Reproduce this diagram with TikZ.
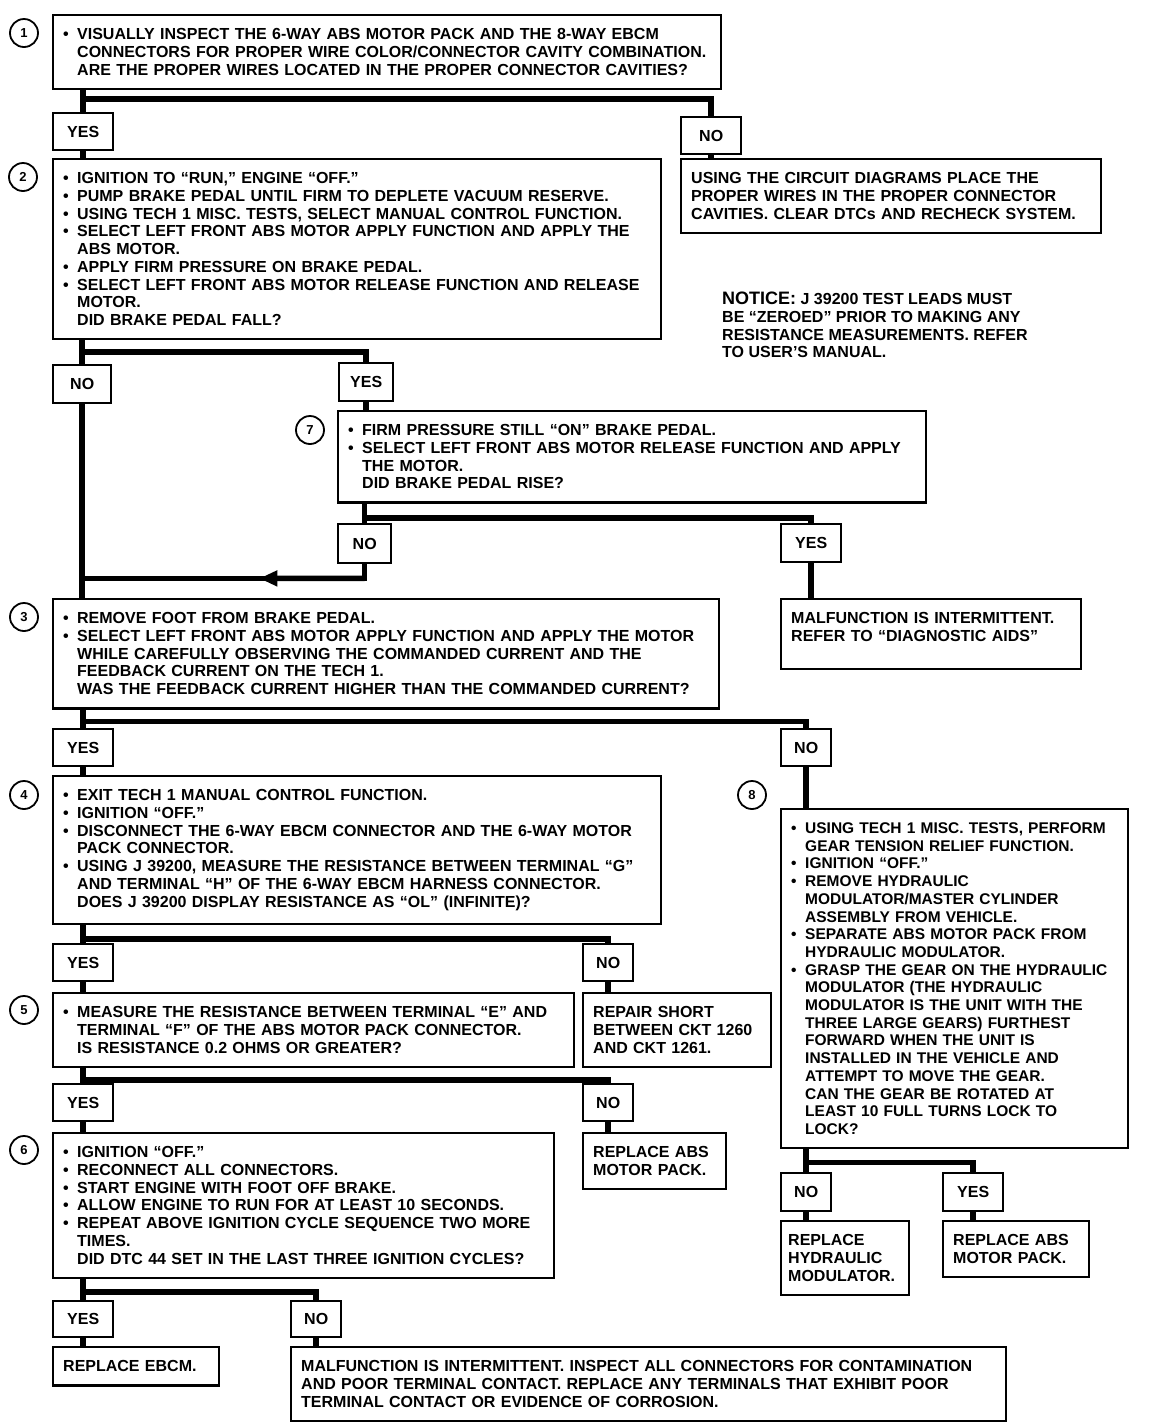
\documentclass[tikz,border=0pt]{standalone}
\usepackage{fontspec}
\setmainfont{Liberation Sans}
\usetikzlibrary{arrows.meta, positioning, calc}

\newcommand{\itm}{\makebox[14pt][l]{•}}
\newcommand{\ind}{\hspace*{14pt}}

\begin{document}
\begin{tikzpicture}[
    x=1pt, y=-1pt,
    every node/.style={font=\bfseries\fontsize{16}{17.7}\selectfont},
    stepbox/.style={draw, line width=2.4pt, anchor=north west, align=left,
                    inner xsep=10pt, inner ysep=13.5pt},
    answer/.style={draw, line width=2.4pt, anchor=north west,
                   minimum height=37pt, inner sep=2pt},
    num/.style={draw, circle, line width=1.8pt, minimum size=28pt, inner sep=0pt,
                font=\bfseries\fontsize{13}{13}\selectfont},
    conn/.style={line width=5.5pt},
  ]
    \useasboundingbox (0,0) rectangle (1152,1428);

    % step 1
    \node[num] (c1) at (24,33) {1};
    \node[stepbox, text width=648pt] (b1) at (52,14)
      {\itm VISUALLY INSPECT THE 6-WAY ABS MOTOR PACK AND THE 8-WAY EBCM\\
       \ind CONNECTORS FOR PROPER WIRE COLOR/CONNECTOR CAVITY COMBINATION.\\
       \ind ARE THE PROPER WIRES LOCATED IN THE PROPER CONNECTOR CAVITIES?};
    \node[answer, minimum width=60pt] (y1) at (52,112) {YES};
    \node[answer, minimum width=60pt] (n1) at (680,116) {NO};
    \node[stepbox, text width=400pt] (r1) at (680,158)
      {USING THE CIRCUIT DIAGRAMS PLACE THE\\
       PROPER WIRES IN THE PROPER CONNECTOR\\
       CAVITIES. CLEAR DTCs AND RECHECK SYSTEM.};

    % step 2
    \node[num] (c2) at (23,177) {2};
    \node[stepbox, text width=588pt] (b2) at (52,158)
      {\itm IGNITION TO “RUN,” ENGINE “OFF.”\\
       \itm PUMP BRAKE PEDAL UNTIL FIRM TO DEPLETE VACUUM RESERVE.\\
       \itm USING TECH 1 MISC. TESTS, SELECT MANUAL CONTROL FUNCTION.\\
       \itm SELECT LEFT FRONT ABS MOTOR APPLY FUNCTION AND APPLY THE\\
       \ind ABS MOTOR.\\
       \itm APPLY FIRM PRESSURE ON BRAKE PEDAL.\\
       \itm SELECT LEFT FRONT ABS MOTOR RELEASE FUNCTION AND RELEASE\\
       \ind MOTOR.\\
       \ind DID BRAKE PEDAL FALL?};
    \node[anchor=north west, inner sep=0pt, align=left] (notice) at (722,292)
      {{\fontsize{18}{18}\selectfont NOTICE:} J 39200 TEST LEADS MUST\\
       BE “ZEROED” PRIOR TO MAKING ANY\\
       RESISTANCE MEASUREMENTS. REFER\\
       TO USER’S MANUAL.};
    \node[answer, minimum width=58pt, minimum height=38pt] (n2) at (52,364) {NO};
    \node[answer, minimum width=54pt, minimum height=38pt] (y2) at (338,362) {YES};

    % step 7
    \node[num] (c7) at (310,430) {7};
    \node[stepbox, text width=568pt] (b7) at (337,410)
      {\itm FIRM PRESSURE STILL “ON” BRAKE PEDAL.\\
       \itm SELECT LEFT FRONT ABS MOTOR RELEASE FUNCTION AND APPLY\\
       \ind THE MOTOR.\\
       \ind DID BRAKE PEDAL RISE?};
    \node[answer, minimum width=53pt, minimum height=39pt] (n7) at (337,523) {NO};
    \node[answer, minimum width=60pt, minimum height=38pt] (y7) at (780,523) {YES};
    \node[stepbox, text width=280pt] (r7) at (780,598)
      {MALFUNCTION IS INTERMITTENT.\\
       REFER TO “DIAGNOSTIC AIDS”\\[-4pt]\mbox{}};

    % step 3
    \node[num] (c3) at (24,617) {3};
    \node[stepbox, text width=646pt] (b3) at (52,598)
      {\itm REMOVE FOOT FROM BRAKE PEDAL.\\
       \itm SELECT LEFT FRONT ABS MOTOR APPLY FUNCTION AND APPLY THE MOTOR\\
       \ind WHILE CAREFULLY OBSERVING THE COMMANDED CURRENT AND THE\\
       \ind FEEDBACK CURRENT ON THE TECH 1.\\
       \ind WAS THE FEEDBACK CURRENT HIGHER THAN THE COMMANDED CURRENT?};
    \node[answer, minimum width=60pt] (y3) at (52,728) {YES};
    \node[answer, minimum width=50pt] (n3) at (780,728) {NO};

    % step 4
    \node[num] (c4) at (24,795) {4};
    \node[stepbox, text width=588pt] (b4) at (52,775)
      {\itm EXIT TECH 1 MANUAL CONTROL FUNCTION.\\
       \itm IGNITION “OFF.”\\
       \itm DISCONNECT THE 6-WAY EBCM CONNECTOR AND THE 6-WAY MOTOR\\
       \ind PACK CONNECTOR.\\
       \itm USING J 39200, MEASURE THE RESISTANCE BETWEEN TERMINAL “G”\\
       \ind AND TERMINAL “H” OF THE 6-WAY EBCM HARNESS CONNECTOR.\\
       \ind DOES J 39200 DISPLAY RESISTANCE AS “OL” (INFINITE)?};
    \node[answer, minimum width=60pt] (y4) at (52,943) {YES};
    \node[answer, minimum width=50pt] (n4) at (582,943) {NO};

    % step 8
    \node[num] (c8) at (752,795) {8};
    \node[stepbox, text width=327pt, font=\bfseries\fontsize{15.5}{17.7}\selectfont] (b8) at (780,808)
      {\itm USING TECH 1 MISC. TESTS, PERFORM\\
       \ind GEAR TENSION RELIEF FUNCTION.\\
       \itm IGNITION “OFF.”\\
       \itm REMOVE HYDRAULIC\\
       \ind MODULATOR/MASTER CYLINDER\\
       \ind ASSEMBLY FROM VEHICLE.\\
       \itm SEPARATE ABS MOTOR PACK FROM\\
       \ind HYDRAULIC MODULATOR.\\
       \itm GRASP THE GEAR ON THE HYDRAULIC\\
       \ind MODULATOR (THE HYDRAULIC\\
       \ind MODULATOR IS THE UNIT WITH THE\\
       \ind THREE LARGE GEARS) FURTHEST\\
       \ind FORWARD WHEN THE UNIT IS\\
       \ind INSTALLED IN THE VEHICLE AND\\
       \ind ATTEMPT TO MOVE THE GEAR.\\
       \ind CAN THE GEAR BE ROTATED AT\\
       \ind LEAST 10 FULL TURNS LOCK TO\\
       \ind LOCK?};
    \node[answer, minimum width=50pt, minimum height=38pt] (n8) at (780,1172) {NO};
    \node[answer, minimum width=60pt, minimum height=38pt] (y8) at (942,1172) {YES};
    \node[stepbox, text width=114pt, inner xsep=7pt] (r8n) at (780,1220)
      {REPLACE\\ HYDRAULIC\\ MODULATOR.};
    \node[stepbox, text width=126pt] (r8y) at (942,1220)
      {REPLACE ABS\\ MOTOR PACK.};

    % step 5
    \node[num] (c5) at (24,1010) {5};
    \node[stepbox, text width=501pt] (b5) at (52,992)
      {\itm MEASURE THE RESISTANCE BETWEEN TERMINAL “E” AND\\
       \ind TERMINAL “F” OF THE ABS MOTOR PACK CONNECTOR.\\
       \ind IS RESISTANCE 0.2 OHMS OR GREATER?};
    \node[stepbox, text width=168pt] (r4) at (582,992)
      {REPAIR SHORT\\ BETWEEN CKT 1260\\ AND CKT 1261.};
    \node[answer, minimum width=60pt] (y5) at (52,1083) {YES};
    \node[answer, minimum width=50pt] (n5) at (582,1083) {NO};
    \node[stepbox, text width=123pt] (r5) at (582,1132)
      {REPLACE ABS\\ MOTOR PACK.};

    % step 6
    \node[num] (c6) at (24,1150) {6};
    \node[stepbox, text width=481pt] (b6) at (52,1132)
      {\itm IGNITION “OFF.”\\
       \itm RECONNECT ALL CONNECTORS.\\
       \itm START ENGINE WITH FOOT OFF BRAKE.\\
       \itm ALLOW ENGINE TO RUN FOR AT LEAST 10 SECONDS.\\
       \itm REPEAT ABOVE IGNITION CYCLE SEQUENCE TWO MORE\\
       \ind TIMES.\\
       \ind DID DTC 44 SET IN THE LAST THREE IGNITION CYCLES?};
    \node[answer, minimum width=60pt, minimum height=36pt] (y6) at (52,1300) {YES};
    \node[answer, minimum width=50pt, minimum height=36pt] (n6) at (290,1300) {NO};
    \node[stepbox, text width=146pt] (r6y) at (52,1346) {REPLACE EBCM.};
    \node[stepbox, text width=695pt] (r6n) at (290,1346)
      {MALFUNCTION IS INTERMITTENT. INSPECT ALL CONNECTORS FOR CONTAMINATION\\
       AND POOR TERMINAL CONTACT. REPLACE ANY TERMINALS THAT EXHIBIT POOR\\
       TERMINAL CONTACT OR EVIDENCE OF CORROSION.};

    % junctions
    \coordinate (j1) at ($(b1.south -| y1.north)+(0,-9pt)$);
    \coordinate (j2) at ($(b2.south -| n2.north)+(0,-12pt)$);
    \coordinate (j7) at ($(b7.south -| n7.north)+(0,-14pt)$);
    \coordinate (k7) at ($(n7.south)+(0,-14pt)$);
    \coordinate (j3) at ($(b3.south -| y3.north)+(0,-12pt)$);
    \coordinate (j4) at ($(b4.south -| y4.north)+(0,-14pt)$);
    \coordinate (j5) at ($(b5.south -| y5.north)+(0,-12pt)$);
    \coordinate (j6) at ($(b6.south -| y6.north)+(0,-13pt)$);
    \coordinate (j8) at ($(b8.south -| n8.north)+(0,-13pt)$);

    % connectors
    \draw[conn] (b1.south -| y1.north) -- (y1.north);
    \draw[conn] (j1) -| (n1.north);
    \draw[conn] (y1.south) -- (y1.south |- b2.north);
    \draw[conn] (n1.south) -- (n1.south |- r1.north);

    \draw[conn] (b2.south -| n2.north) -- (n2.north);
    \draw[conn] (j2) -| (y2.north);
    \draw[conn] (n2.south) -- (n2.south |- b3.north);
    \draw[conn] (y2.south) -- (y2.south |- b7.north);

    \draw[conn] (b7.south -| n7.north) -- (n7.north);
    \draw[conn] (j7) -| (y7.north);
    \draw[conn] (y7.south) -- (y7.south |- r7.north);
    \draw[conn] (n7.south) -- (k7) -- (k7 -| n2.south);
    \draw[conn, -{Triangle[length=18pt, width=15pt]}] (k7) -- ($(k7)!0.373!(k7 -| n2.south)$);

    \draw[conn] (b3.south -| y3.north) -- (y3.north);
    \draw[conn] (j3) -| (n3.north);
    \draw[conn] (y3.south) -- (y3.south |- b4.north);
    \draw[conn] (n3.south) -- (n3.south |- b8.north);

    \draw[conn] (b4.south -| y4.north) -- (y4.north);
    \draw[conn] (j4) -| (n4.north);
    \draw[conn] (y4.south) -- (y4.south |- b5.north);
    \draw[conn] (n4.south) -- (n4.south |- r4.north);

    \draw[conn] (b5.south -| y5.north) -- (y5.north);
    \draw[conn] (j5) -| (n5.north);
    \draw[conn] (y5.south) -- (y5.south |- b6.north);
    \draw[conn] (n5.south) -- (n5.south |- r5.north);

    \draw[conn] (b6.south -| y6.north) -- (y6.north);
    \draw[conn] (j6) -| (n6.north);
    \draw[conn] (y6.south) -- (y6.south |- r6y.north);
    \draw[conn] (n6.south) -- (n6.south |- r6n.north);

    \draw[conn] (b8.south -| n8.north) -- (n8.north);
    \draw[conn] (j8) -| (y8.north);
    \draw[conn] (n8.south) -- (n8.south |- r8n.north);
    \draw[conn] (y8.south) -- (y8.south |- r8y.north);
  \end{tikzpicture}
\end{document}
